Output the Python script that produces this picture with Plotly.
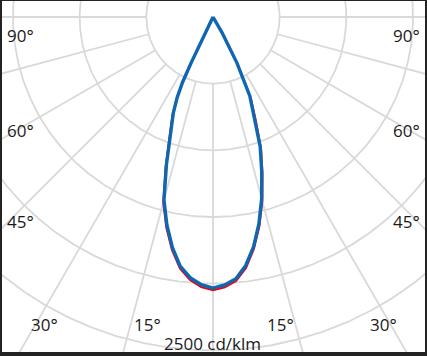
import numpy as np
import plotly.graph_objects as go

# Luminous intensity distribution (cd/klm), gamma angle in degrees from nadir
gamma_left = [0, 2.5, 5, 7.5, 10, 12.5, 15, 17.5, 20, 22.5, 24, 25, 25.5, 26, 26.5]
blue_left = [2033, 2010, 1962, 1885, 1755, 1598, 1421, 1161, 934, 777, 660, 540, 375, 225, 0]
red_left = [2050, 2027, 1980, 1903, 1774, 1618, 1441, 1183, 955, 795, 675, 550, 383, 230, 0]

gamma_right = [0, 2.5, 5, 7.5, 10, 12.5, 15, 17.5, 20, 22.5, 25, 27.5, 30, 31.5]
blue_right = [2033, 2012, 1970, 1880, 1750, 1590, 1410, 1215, 1035, 818, 653, 390, 135, 0]
red_right = [2050, 2029, 1988, 1898, 1767, 1608, 1430, 1235, 1055, 838, 672, 405, 140, 0]

ring_values = [500, 1000, 1500, 2000, 2500, 3000, 3500]
spoke_angles = list(range(-180, 181, 15))
spoke_start, spoke_end = 500, 4500

side_labels = ["90°", "60°", "45°"]
bottom_labels = ["30°", "15°", "15°", "30°"]
scale_label = "2500 cd/klm"

# pixel scale of the chart: cd/klm per pixel, centre location
CD_PER_PX = 7.5
CX, CY = 213, 17
W, H = 427, 356
ML, MR, MT, MB = 2, 2, 1, 4


def to_xy(r, g_deg):
    g = np.radians(np.asarray(g_deg, dtype=float))
    r = np.asarray(r, dtype=float)
    return r * np.sin(g), -r * np.cos(g)


def px(xp, yp):
    return (xp - CX) * CD_PER_PX, (CY - yp) * CD_PER_PX


GRID = "#d9d9d9"
fig = go.Figure()

# rings
theta = np.linspace(-180, 180, 721)
for rv in ring_values:
    x, y = to_xy(np.full_like(theta, rv), theta)
    fig.add_trace(go.Scatter(x=x, y=y, mode="lines", line=dict(color=GRID, width=1.8),
                             hoverinfo="skip", showlegend=False))
# spokes
for a in spoke_angles:
    x, y = to_xy([spoke_start, spoke_end], [a, a])
    fig.add_trace(go.Scatter(x=x, y=y, mode="lines", line=dict(color=GRID, width=1.8),
                             hoverinfo="skip", showlegend=False))


def full_curve(gl, vl, gr, vr):
    g = [-v for v in gl[::-1]] + list(gr[1:])
    r = list(vl[::-1]) + list(vr[1:])
    return to_xy(r, g)


xr, yr = full_curve(gamma_left, red_left, gamma_right, red_right)
fig.add_trace(go.Scatter(x=xr, y=yr, mode="lines", line=dict(color="#e30613", width=2),
                         name="C90-C270", showlegend=False))
xb, yb = full_curve(gamma_left, blue_left, gamma_right, blue_right)
fig.add_trace(go.Scatter(x=xb, y=yb, mode="lines", line=dict(color="#0f67b1", width=3.4),
                         name="C0-C180", showlegend=False))

font = dict(family="Open Sans", size=17, color="#1a1a1a")
anns = []
for lab, yp in zip(side_labels, [35, 130, 221]):
    x, y = px(6, yp)
    anns.append(dict(x=x, y=y, text=lab, xanchor="left", yanchor="middle"))
    x, y = px(421, yp)
    anns.append(dict(x=x, y=y, text=lab, xanchor="right", yanchor="middle"))
for lab, xp in zip(bottom_labels, [44.5, 147.5, 280.5, 383.5]):
    x, y = px(xp, 324)
    anns.append(dict(x=x, y=y, text=lab, xanchor="center", yanchor="middle"))
x, y = px(212.5, 343)
anns.append(dict(x=x, y=y, text=scale_label, xanchor="center", yanchor="middle"))
for a in anns:
    a.update(xref="x", yref="y", showarrow=False, font=font, borderpad=0)

x0, _ = px(ML, 0)
x1, _ = px(W - MR, 0)
_, y1 = px(0, MT)
_, y0 = px(0, H - MB)

fig.update_layout(
    width=W, height=H,
    margin=dict(l=ML, r=MR, t=MT, b=MB, pad=0),
    paper_bgcolor="#232323", plot_bgcolor="white",
    xaxis=dict(range=[x0, x1], visible=False, showgrid=False, zeroline=False, fixedrange=True),
    yaxis=dict(range=[y0, y1], visible=False, showgrid=False, zeroline=False, fixedrange=True),
    annotations=anns,
    showlegend=False,
)
fig.write_html("out.html")
